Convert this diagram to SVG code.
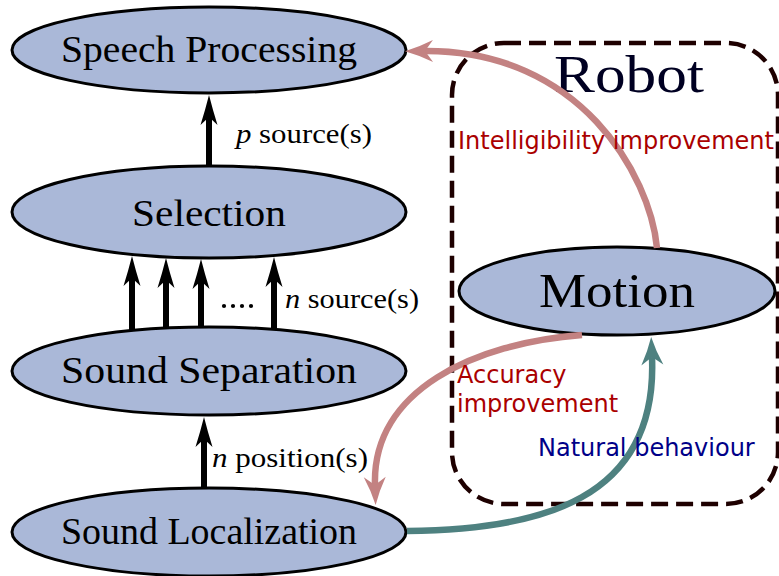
<svg xmlns="http://www.w3.org/2000/svg" width="779" height="576" viewBox="0 0 779 576">
  <style>
    .node ellipse { fill: #aab8d8; stroke: #000000; stroke-width: 3; }
    .ntext { font-family: "Liberation Serif", "DejaVu Serif", serif; font-size: 38px; fill: #000000; text-anchor: middle; }
    .lbl { font-family: "Liberation Serif", "DejaVu Serif", serif; font-size: 27px; fill: #000000; }
    .lbl .it { font-style: italic; }
    .note { font-family: "DejaVu Sans", "Noto Sans", sans-serif; font-size: 24px; }
    .red { fill: #aa0000; }
    .blue { fill: #000088; }
    .blk { fill: none; stroke: #000000; stroke-width: 6; }
    .pink { fill: none; stroke: #c38282; stroke-width: 6.5; }
    .teal { fill: none; stroke: #4e8180; stroke-width: 6.5; }
    .robot { fill: none; stroke: #1e0000; stroke-width: 4.5; stroke-dasharray: 17 8; }
  </style>
  <defs>
    <marker id="ahBlk" markerUnits="userSpaceOnUse" viewBox="-9 -10 32 20" markerWidth="32" markerHeight="20" refX="0" refY="0" orient="auto">
      <path d="M22,0 Q8,-3.5 -8,-8.5 L0,0 L-8,8.5 Q8,3.5 22,0 Z" fill="#000000"/>
    </marker>
    <marker id="ahPink" markerUnits="userSpaceOnUse" viewBox="-9 -12 31 24" markerWidth="31" markerHeight="24" refX="0" refY="0" orient="auto">
      <path d="M20,0 Q6,-4 -8,-11 L0,0 L-8,11 Q6,4 20,0 Z" fill="#c38282"/>
    </marker>
    <marker id="ahTeal" markerUnits="userSpaceOnUse" viewBox="-9 -12 31 24" markerWidth="31" markerHeight="24" refX="0" refY="0" orient="auto">
      <path d="M20,0 Q6,-4 -8,-11 L0,0 L-8,11 Q6,4 20,0 Z" fill="#4e8180"/>
    </marker>
  </defs>

  <g id="robot">
    <rect class="robot" x="452" y="43" width="326" height="461" rx="52" ry="52"/>
    <text x="629" y="92" font-family="Liberation Serif, DejaVu Serif, serif" font-size="52" fill="#000022" text-anchor="middle" textLength="150" lengthAdjust="spacingAndGlyphs">Robot</text>
  </g>

  <g id="speech-processing" class="node">
    <ellipse cx="209" cy="50" rx="197" ry="43"/>
    <text class="ntext" x="209" y="62" textLength="296" lengthAdjust="spacingAndGlyphs">Speech Processing</text>
  </g>
  <g id="selection" class="node">
    <ellipse cx="209" cy="212" rx="197" ry="46"/>
    <text class="ntext" x="209" y="226" textLength="154" lengthAdjust="spacingAndGlyphs">Selection</text>
  </g>
  <g id="sound-separation" class="node">
    <ellipse cx="209" cy="371" rx="197" ry="44"/>
    <text class="ntext" x="209" y="383" textLength="296" lengthAdjust="spacingAndGlyphs">Sound Separation</text>
  </g>
  <g id="sound-localization" class="node">
    <ellipse cx="209" cy="532" rx="197" ry="44"/>
    <text class="ntext" x="209" y="544" textLength="296" lengthAdjust="spacingAndGlyphs">Sound Localization</text>
  </g>
  <g id="motion" class="node">
    <ellipse cx="617" cy="291" rx="158" ry="44"/>
    <text class="ntext" x="617" y="307" font-size="48" style="font-size:48px" textLength="156" lengthAdjust="spacingAndGlyphs">Motion</text>
  </g>

  <g id="connectors">
    <path class="blk" d="M209,166 L209,117" marker-end="url(#ahBlk)"/>
    <path class="blk" d="M132,331 L132,278" marker-end="url(#ahBlk)"/>
    <path class="blk" d="M166,328 L166,280" marker-end="url(#ahBlk)"/>
    <path class="blk" d="M201,327 L201,281" marker-end="url(#ahBlk)"/>
    <path class="blk" d="M274,330 L274,279" marker-end="url(#ahBlk)"/>
    <path class="blk" d="M204,488 L204,439" marker-end="url(#ahBlk)"/>

    <path class="pink" d="M657,248 C650,175 580,50 425,51" marker-end="url(#ahPink)"/>
    <path class="pink" d="M582,335 C475,343 372,390 375,485" marker-end="url(#ahPink)"/>
    <path class="teal" d="M407,531 C540,530 658,500 652,357" marker-end="url(#ahTeal)"/>
  </g>

  <g id="labels">
    <text class="lbl" x="236" y="143" textLength="136" lengthAdjust="spacingAndGlyphs"><tspan class="it">p</tspan> source(s)</text>
    <text class="lbl" x="285" y="308" textLength="134" lengthAdjust="spacingAndGlyphs"><tspan class="it">n</tspan> source(s)</text>
    <text class="lbl" x="212" y="467" textLength="156" lengthAdjust="spacingAndGlyphs"><tspan class="it">n</tspan> position(s)</text>
    <g id="dots" fill="#000000">
      <circle cx="224" cy="306" r="2.1"/>
      <circle cx="233" cy="306" r="2.1"/>
      <circle cx="242" cy="306" r="2.1"/>
      <circle cx="251" cy="306" r="2.1"/>
    </g>
    <text class="note red" x="458" y="149">Intelligibility improvement</text>
    <text class="note red" x="457" y="383">Accuracy</text>
    <text class="note red" x="457" y="412">improvement</text>
    <text class="note blue" x="538" y="456">Natural behaviour</text>
  </g>
</svg>
